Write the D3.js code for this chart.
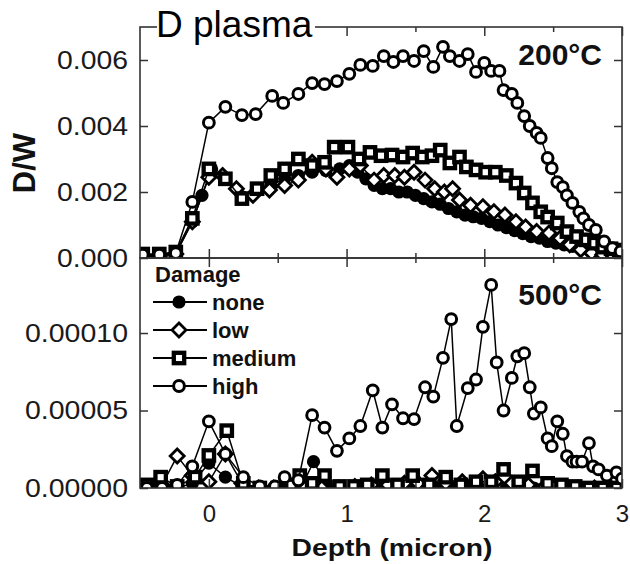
<!DOCTYPE html>
<html><head><meta charset="utf-8">
<script src="https://cdn.jsdelivr.net/npm/d3@7"></script>
<style>body{margin:0;background:#fff;} svg{display:block;}</style>
</head><body>
<svg id="c" width="630" height="564"></svg>
<script>
// ---------- data ----------
const xTicks = [0, 1, 2, 3];
const xMinorTicks = [0.5, 1.5, 2.5];
const yTicksTop = [0, 0.002, 0.004, 0.006];
const yTicksBot = [0, 0.00005, 0.0001];
const seriesNames = ["none", "low", "medium", "high"];
const panelLabels = ["200°C", "500°C"];

// 200 C panel: [depth (micron), D/W]
const none200 = [[-0.48,0.00008],[-0.36,0.00008],[-0.24,0.00015],[-0.12,0.0011],[-0.05,0.0019],[0.02,0.0027],[0.12,0.0024],[0.24,0.00185],[0.35,0.0021],[0.45,0.0022],[0.55,0.0024],[0.65,0.0025],[0.75,0.0026],[0.85,0.00265],[0.95,0.0027],[1.02,0.0028],[1.08,0.0026],[1.14,0.0024],[1.2,0.0022],[1.26,0.0021],[1.32,0.0021],[1.38,0.0020],[1.44,0.0020],[1.5,0.0019],[1.56,0.0018],[1.62,0.0017],[1.68,0.00163],[1.74,0.0015],[1.8,0.0014],[1.86,0.0013],[1.92,0.00125],[1.98,0.0012],[2.04,0.0011],[2.1,0.001],[2.16,0.00092],[2.22,0.00083],[2.28,0.00074],[2.34,0.00065],[2.4,0.0006],[2.46,0.0005],[2.52,0.00045],[2.58,0.0004],[2.64,0.00035],[2.7,0.0003],[2.76,0.00025],[2.82,0.0002],[2.88,0.0002],[2.94,0.00015],[3.0,0.0001]];
const low200 = [[-0.48,0.00005],[-0.36,0.00006],[-0.24,0.00012],[-0.12,0.0011],[0.0,0.00245],[0.1,0.0025],[0.2,0.0021],[0.32,0.0019],[0.44,0.00206],[0.55,0.0022],[0.65,0.00236],[0.75,0.0029],[0.85,0.0027],[0.93,0.00245],[1.02,0.0027],[1.1,0.0028],[1.2,0.00236],[1.27,0.0025],[1.35,0.0025],[1.42,0.00245],[1.49,0.0026],[1.57,0.00236],[1.64,0.0021],[1.71,0.0020],[1.77,0.0021],[1.82,0.00176],[1.9,0.0016],[1.99,0.00155],[2.07,0.0014],[2.15,0.0013],[2.23,0.0011],[2.3,0.00094],[2.38,0.0008],[2.47,0.00076],[2.55,0.0006],[2.62,0.0004],[2.7,0.00025],[2.78,0.00015],[2.86,0.0001],[2.94,0.00005]];
const medium200 = [[-0.48,0.00012],[-0.36,0.00012],[-0.24,0.00018],[-0.12,0.0012],[0.0,0.0027],[0.12,0.0024],[0.24,0.0018],[0.35,0.0021],[0.45,0.0025],[0.55,0.0027],[0.65,0.003],[0.75,0.0028],[0.84,0.0029],[0.91,0.00336],[1.01,0.00336],[1.09,0.0030],[1.17,0.0032],[1.25,0.0031],[1.33,0.00312],[1.41,0.00306],[1.48,0.00318],[1.55,0.00306],[1.62,0.0031],[1.68,0.00327],[1.75,0.00288],[1.82,0.00306],[1.87,0.00276],[1.94,0.00267],[2.01,0.0026],[2.08,0.0026],[2.16,0.0025],[2.23,0.00227],[2.29,0.00197],[2.35,0.00167],[2.41,0.0014],[2.46,0.00124],[2.53,0.00106],[2.6,0.0008],[2.67,0.00065],[2.74,0.00055],[2.8,0.00045],[2.86,0.00033],[2.92,0.00028],[2.98,0.00024]];
const high200 = [[-0.48,0.0001],[-0.36,0.0001],[-0.24,0.00015],[-0.12,0.0017],[0.0,0.0041],[0.12,0.00458],[0.24,0.00433],[0.34,0.00436],[0.46,0.00491],[0.54,0.0047],[0.65,0.00497],[0.75,0.0053],[0.84,0.00527],[0.93,0.00536],[1.02,0.00558],[1.1,0.00585],[1.19,0.00582],[1.27,0.00612],[1.34,0.00594],[1.41,0.00612],[1.49,0.00597],[1.56,0.00627],[1.63,0.00579],[1.7,0.0064],[1.75,0.00612],[1.82,0.00597],[1.88,0.00618],[1.94,0.00564],[2.0,0.00591],[2.05,0.00567],[2.11,0.00567],[2.14,0.00509],[2.2,0.00497],[2.24,0.0047],[2.29,0.0043],[2.33,0.004],[2.38,0.00379],[2.41,0.00364],[2.46,0.00303],[2.49,0.00272],[2.53,0.0023],[2.57,0.00215],[2.6,0.0019],[2.64,0.00167],[2.69,0.0014],[2.72,0.0012],[2.76,0.001],[2.81,0.00085],[2.87,0.0005],[2.93,0.0003],[2.99,0.0002]];

// 500 C panel
const none500 = [[-0.45,0],[-0.34,0],[-0.23,0],[-0.12,0.000003],[0.0,0.000016],[0.12,0.000007],[0.24,0.000001],[0.36,0],[0.47,0],[0.58,0],[0.68,0.000002],[0.76,0.000017],[0.86,0.000001],[0.96,0],[1.06,0],[1.16,0],[1.26,0],[1.36,0],[1.46,0],[1.56,0],[1.66,0],[1.76,0],[1.86,0],[1.96,0],[2.06,0],[2.16,0],[2.26,0],[2.36,0],[2.46,0],[2.56,0],[2.66,0],[2.76,0],[2.86,0],[2.96,0]];
const low500 = [[-0.45,0],[-0.34,0.000002],[-0.23,0.0000206],[-0.12,0.000008],[0.0,0.000004],[0.12,0.000022],[0.24,0.000003],[0.36,0],[0.47,0],[0.58,0],[0.7,0],[0.82,0],[0.94,0],[1.06,0.000001],[1.18,0.000002],[1.3,0.000002],[1.42,0.000003],[1.52,0.000003],[1.62,0.000008],[1.72,0.000003],[1.84,0.000004],[1.99,0.000006],[2.08,0.000004],[2.2,0.000003],[2.32,0.000002],[2.44,0.000001],[2.56,0],[2.68,0],[2.8,0],[2.92,0]];
const medium500 = [[-0.45,0.000002],[-0.35,0.000007],[-0.23,0.000001],[-0.1,0.000007],[0.0,0.000021],[0.13,0.000037],[0.25,0.000003],[0.37,0],[0.5,0],[0.6,0.000002],[0.66,0.000008],[0.75,0.000003],[0.84,0.000008],[0.95,0.000001],[1.05,0.000001],[1.15,0.000002],[1.26,0.000008],[1.37,0.000002],[1.48,0.000008],[1.6,0.000002],[1.72,0.000007],[1.83,0.000002],[1.94,0.000004],[2.05,0.000004],[2.14,0.000012],[2.25,0.000004],[2.35,0.000011],[2.46,0.000003],[2.56,0.000002],[2.66,0.000001],[2.76,0],[2.86,0],[2.96,0]];
const high500 = [[-0.45,0],[-0.34,0],[-0.23,0.000002],[-0.12,0.000014],[0.0,0.000043],[0.12,0.000022],[0.25,0.000007],[0.37,0.000001],[0.48,0.000001],[0.55,0.000007],[0.65,0.000005],[0.75,0.000047],[0.84,0.000039],[0.93,0.000024],[1.02,0.000032],[1.10,0.00004],[1.19,0.000063],[1.26,0.000039],[1.33,0.000054],[1.41,0.000045],[1.49,0.0000445],[1.57,0.000065],[1.63,0.000059],[1.70,0.000084],[1.76,0.000109],[1.80,0.00004],[1.88,0.0000645],[1.94,0.00007],[1.99,0.000104],[2.05,0.000131],[2.09,0.000081],[2.14,0.00005],[2.20,0.000071],[2.24,0.000085],[2.29,0.000087],[2.33,0.000065],[2.36,0.000048],[2.41,0.000052],[2.46,0.000032],[2.49,0.000027],[2.53,0.000043],[2.57,0.000035],[2.60,0.0000206],[2.64,0.000017],[2.67,0.000017],[2.71,0.000017],[2.76,0.000029],[2.79,0.000014],[2.83,0.000012],[2.89,0.000008],[2.96,0.00001],[3.0,0.000006]];

// ---------- drawing ----------
const FONT = "'Liberation Sans', Arial, Helvetica, sans-serif";
const AX = "#333";
const svg = d3.select("#c");
const L = 140, R = 622;
const x = d3.scaleLinear().domain([-0.5, 3]).range([L, R]);
const yTop = d3.scaleLinear().domain([0, 0.007]).range([258, 27]);
const yBot = d3.scaleLinear().domain([0, 0.0001484]).range([488, 258]);

const panels = [
  {series: [none200, low200, medium200, high200], y: yTop, y0: 27, y1: 258, ticks: yTicksTop, fmt: ".3f", tl: 71, label: panelLabels[0], labelY: 65},
  {series: [none500, low500, medium500, high500], y: yBot, y0: 258, y1: 488, ticks: yTicksBot, fmt: ".5f", tl: 103, label: panelLabels[1], labelY: 305}
];

function marker(g, type, cx, cy) {
  if (type === 0) {
    g.append("circle").attr("cx", cx).attr("cy", cy).attr("r", 6.6).attr("fill", "#000");
  } else if (type === 1) {
    const s = 7;
    g.append("path").attr("d", `M${cx},${cy - s}L${cx + s},${cy}L${cx},${cy + s}L${cx - s},${cy}Z`)
      .attr("fill", "#fff").attr("stroke", "#000").attr("stroke-width", 2.8);
  } else if (type === 2) {
    const s = 10.4;
    g.append("rect").attr("x", cx - s / 2).attr("y", cy - s / 2).attr("width", s).attr("height", s)
      .attr("fill", "#fff").attr("stroke", "#000").attr("stroke-width", 4.3);
  } else {
    g.append("circle").attr("cx", cx).attr("cy", cy).attr("r", 5.4)
      .attr("fill", "#fff").attr("stroke", "#000").attr("stroke-width", 3);
  }
}

const defs = svg.append("defs");
panels.forEach((p, pi) => {
  defs.append("clipPath").attr("id", "clip" + pi).append("rect")
    .attr("x", L).attr("y", p.y0).attr("width", R - L).attr("height", p.y1 - p.y0);
  const g = svg.append("g").attr("clip-path", `url(#clip${pi})`);
  p.series.forEach((data, si) => {
    const line = d3.line().x(d => x(d[0])).y(d => p.y(d[1]));
    g.append("path").attr("d", line(data)).attr("fill", "none").attr("stroke", "#000").attr("stroke-width", 1.5);
    const mg = g.append("g");
    data.forEach(d => marker(mg, si, x(d[0]), p.y(d[1])));
  });

  // frame
  svg.append("rect").attr("x", L).attr("y", p.y0).attr("width", R - L).attr("height", p.y1 - p.y0)
    .attr("fill", "none").attr("stroke", AX).attr("stroke-width", 1.6);

  // left axis with labels
  const gl = svg.append("g").attr("transform", `translate(${L},0)`).attr("color", AX)
    .call(d3.axisLeft(p.y).tickValues(p.ticks).tickSize(-8).tickPadding(12).tickFormat(d3.format(p.fmt)));
  gl.select(".domain").remove();
  gl.selectAll("line").attr("stroke-width", 1.5);
  gl.selectAll("text").attr("font-size", 25).attr("font-family", FONT).attr("fill", "#1a1a1a")
    .attr("textLength", p.tl).attr("lengthAdjust", "spacingAndGlyphs");
  // right axis
  const gr = svg.append("g").attr("transform", `translate(${R},0)`).attr("color", AX)
    .call(d3.axisRight(p.y).tickValues(p.ticks).tickSize(-8).tickFormat(""));
  gr.select(".domain").remove();
  gr.selectAll("line").attr("stroke-width", 1.5);
  // top & bottom x ticks
  [[p.y0, d3.axisTop], [p.y1, d3.axisBottom]].forEach(([yy, fn]) => {
    [[xTicks, -9], [xMinorTicks, -5]].forEach(([tv, ts]) => {
      const ga = svg.append("g").attr("transform", `translate(0,${yy})`).attr("color", AX)
        .call(fn(x).tickValues(tv).tickSize(ts).tickFormat(""));
      ga.select(".domain").remove();
      ga.selectAll("line").attr("stroke-width", 1.5);
    });
  });

  // temperature label
  svg.append("text").attr("x", 602).attr("y", p.labelY).attr("text-anchor", "end")
    .attr("font-family", FONT).attr("font-size", 30).attr("font-weight", "bold").attr("fill", "#111")
    .text(p.label);
});

// x tick labels
const gx = svg.append("g").attr("transform", "translate(0,488)")
  .call(d3.axisBottom(x).tickValues(xTicks).tickSize(0).tickPadding(17).tickFormat(d3.format("d")));
gx.select(".domain").remove();
gx.selectAll("text").attr("font-size", 24).attr("font-family", FONT).attr("fill", "#1a1a1a");

// axis titles
svg.append("text").attr("x", 392).attr("y", 556).attr("text-anchor", "middle")
  .attr("font-family", FONT).attr("font-size", 24).attr("font-weight", "bold").attr("fill", "#111")
  .attr("textLength", 201).attr("lengthAdjust", "spacingAndGlyphs").text("Depth (micron)");
svg.append("text").attr("transform", "translate(35,163) rotate(-90)").attr("text-anchor", "middle")
  .attr("font-family", FONT).attr("font-size", 31).attr("font-weight", "bold").attr("fill", "#111")
  .text("D/W");

// title over top frame
svg.append("rect").attr("x", 157).attr("y", 18).attr("width", 158).attr("height", 18).attr("fill", "#fff");
svg.append("text").attr("x", 156).attr("y", 37).attr("font-family", FONT).attr("font-size", 37)
  .attr("fill", "#000").text("D plasma");

// legend
const lg = svg.append("g");
lg.append("text").attr("x", 155).attr("y", 282).attr("font-family", FONT).attr("font-size", 22)
  .attr("font-weight", "bold").attr("fill", "#111").text("Damage");
seriesNames.forEach((n, i) => {
  const cy = 302 + i * 28;
  lg.append("line").attr("x1", 153).attr("x2", 207).attr("y1", cy).attr("y2", cy)
    .attr("stroke", "#000").attr("stroke-width", 2);
  marker(lg, i, 179, cy);
  lg.append("text").attr("x", 212).attr("y", cy + 7.5).attr("font-family", FONT).attr("font-size", 22)
    .attr("font-weight", "bold").attr("fill", "#111").text(n);
});
</script>
</body></html>
